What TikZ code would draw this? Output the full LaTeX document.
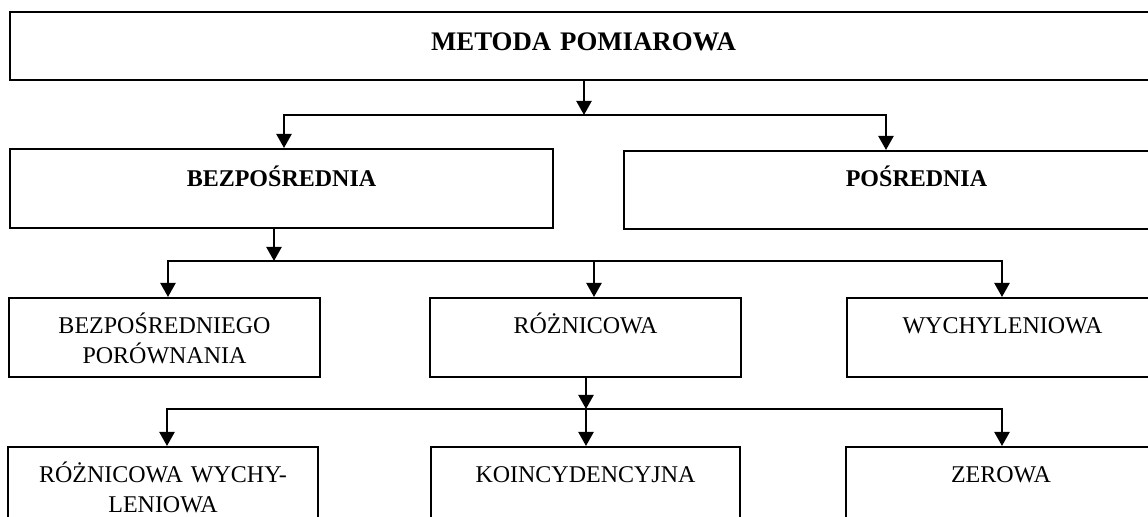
\documentclass[tikz,border=0pt]{standalone}
\usepackage{fontspec}
\setmainfont{Liberation Serif}
\usetikzlibrary{arrows.meta,calc,positioning}

\begin{document}
\begin{tikzpicture}[x=0.5pt,y=-0.5pt,
    box/.style={draw,line width=0.9pt,inner sep=0pt,anchor=north,align=center,
                font=\fontsize{12}{15}\selectfont},
    head/.style={box,font=\fontsize{12}{15}\selectfont\bfseries},
    arr/.style={line width=1.1pt,-{Triangle[width=7.5pt,length=7pt]}}]
%
  \useasboundingbox (0,0) rectangle (1148,517) ;
%
  \node [head,font=\fontsize{13.4}{16}\selectfont\bfseries,text width=573.5pt,text height=19.5pt,text depth=14.5pt] (m) at (583.5,11) {METODA POMIAROWA} ;
%
  \node [head,text width=271.5pt,text height=19pt,text depth=20.5pt] (bez) at (281.5,148) {BEZPOŚREDNIA} ;
  \node [head,text width=292.5pt,text height=18pt,text depth=21pt] (pos) at (916.5,150) {POŚREDNIA} ;
%
  \node [box,text width=155.5pt,text height=18pt,text depth=21.5pt] (bpor) at (164.5,297) {BEZPOŚREDNIEGO\\PORÓWNANIA} ;
  \node [box,text width=155.5pt,text height=18pt,text depth=21.5pt] (roz) at (585.5,297) {RÓŻNICOWA} ;
  \node [box,text width=155.5pt,text height=18pt,text depth=21.5pt] (wych) at (1002.5,297) {WYCHYLENIOWA} ;
%
  \node [box,text width=155pt,text height=18pt,text depth=21.5pt] (rwych) at (163,446) {RÓŻNICOWA WYCHY-\\LENIOWA} ;
  \node [box,text width=154.5pt,text height=18pt,text depth=21.5pt] (koin) at (585.5,446) {KOINCYDENCYJNA} ;
  \node [box,text width=155pt,text height=18pt,text depth=21.5pt] (zer) at (1001,446) {ZEROWA} ;
%
  \coordinate (j1) at (584,115) ;
  \coordinate (j1l) at (284,115) ;
  \coordinate (j1r) at (886,115) ;
  \draw [arr] (m.south -| j1) -- (j1) ;
  \draw [arr] (j1) -- (j1l) -- (bez.north -| j1l) ;
  \draw [arr] (j1) -- (j1r) -- (pos.north -| j1r) ;
%
  \coordinate (j2) at (274,261) ;
  \coordinate (j2l) at (168,261) ;
  \coordinate (j2m) at (594,261) ;
  \coordinate (j2r) at (1002,261) ;
  \draw [arr] (bez.south -| j2) -- (j2) ;
  \draw [arr] (j2) -- (j2l) -- (bpor.north -| j2l) ;
  \draw [arr] (j2) -- (j2r) -- (wych.north -| j2r) ;
  \draw [arr] (j2m) -- (roz.north -| j2m) ;
%
  \coordinate (j3) at (586,409) ;
  \coordinate (j3l) at (167,409) ;
  \coordinate (j3r) at (1002,409) ;
  \draw [arr] (roz.south -| j3) -- (j3) ;
  \draw [arr] (j3) -- (j3l) -- (rwych.north -| j3l) ;
  \draw [arr] (j3) -- (j3r) -- (zer.north -| j3r) ;
  \draw [arr] (j3) -- (koin.north -| j3) ;
%
\end{tikzpicture}
\end{document}
